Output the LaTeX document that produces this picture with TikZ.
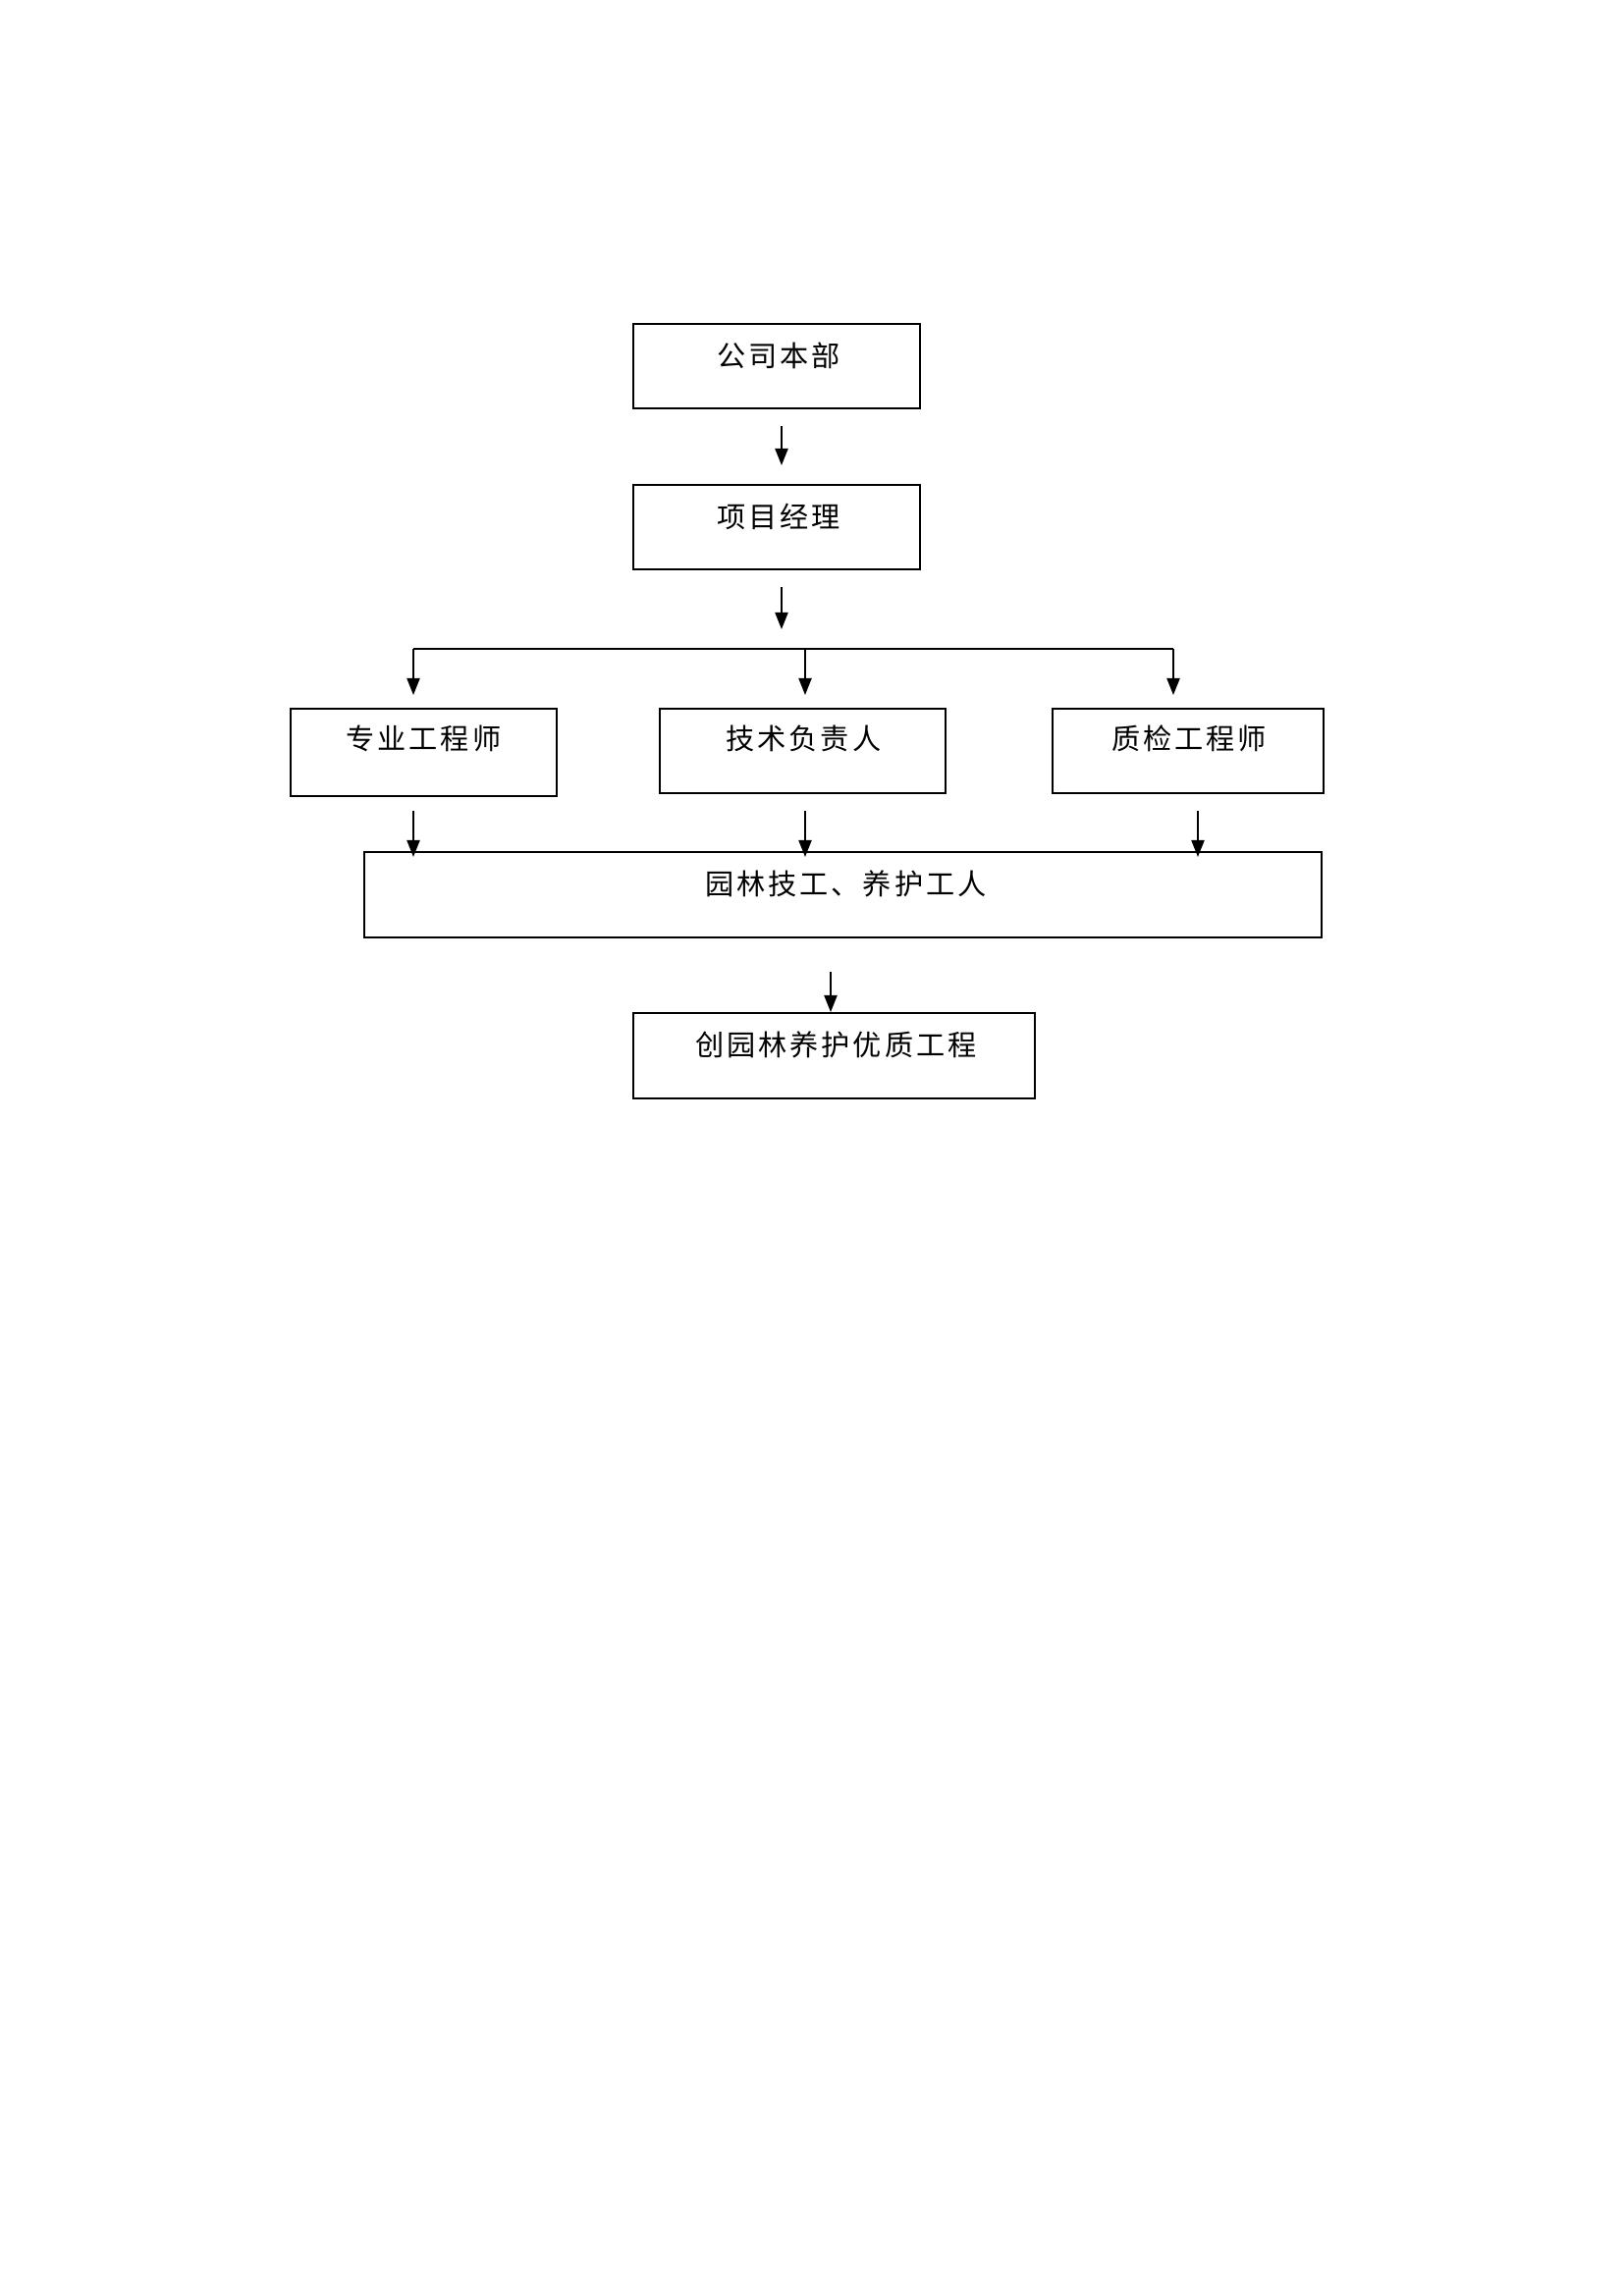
\documentclass[tikz,border=0pt]{standalone}
\usepackage{fontspec}
\newfontfamily\cjk[LetterSpace=10]{Noto Sans CJK SC}
\usetikzlibrary{arrows.meta,fit,calc}
\begin{document}
\begin{tikzpicture}[x=0.35993pt,y=-0.35993pt,
  box/.style={draw,line width=0.7pt,inner sep=0pt},
  arr/.style={line width=0.55pt,-{Triangle[length=6.2pt,width=4.8pt]}},
  txt/.style={font=\cjk\fontsize{10.5}{12}\selectfont,inner sep=0pt,anchor=center}]
\useasboundingbox (0,0) rectangle (1654,2339);
% boxes
\node[box,fit={(645,330) (937,416)}] (b1) {};
\node[box,fit={(645,494) (937,580)}] (b2) {};
\node[box,fit={(296,722) (567,811)}] (b3) {};
\node[box,fit={(672,722) (963,808)}] (b4) {};
\node[box,fit={(1072,722) (1348,808)}] (b5) {};
\node[box,fit={(371,868) (1346,955)}] (b6) {};
\node[box,fit={(645,1032) (1054,1119)}] (b7) {};
% texts
\node[txt] (t1) at ($(b1.north)+(2,33)$) {公司本部};
\node[txt] (t2) at ($(b2.north)+(2,33)$) {项目经理};
\node[txt] (t3) at ($(b3.north)+(0,31)$) {专业工程师};
\node[txt] (t4) at ($(b4.north)+(1,31)$) {技术负责人};
\node[txt] (t5) at ($(b5.north)+(1,31)$) {质检工程师};
\node[txt] (t6) at ($(b6.north)+(3,33)$) {园林技工、养护工人};
\node[txt] (t7) at ($(b7.north)+(2,33)$) {创园林养护优质工程};
% connector points
\coordinate (a1s) at (796,434);
\coordinate (a1e) at (796,474);
\coordinate (a2s) at (796,598);
\coordinate (a2e) at (796,641);
\coordinate (busL) at (421,661);
\coordinate (busM) at (820,661);
\coordinate (busR) at (1195,661);
\coordinate (d3) at (421,708);
\coordinate (d4) at (820,708);
\coordinate (d5) at (1195,708);
\coordinate (u3) at (421,826);
\coordinate (u4) at (820,826);
\coordinate (u5) at (1220,826);
\coordinate (v3) at (421,873);
\coordinate (v4) at (820,873);
\coordinate (v5) at (1220,873);
\coordinate (w1) at (846,990);
% arrows
\draw[arr] (a1s) -- (a1e);
\draw[arr] (a2s) -- (a2e);
\draw[line width=0.55pt] (busL) -- (busR);
\draw[arr] (busL) -- (d3);
\draw[arr] (busM) -- (d4);
\draw[arr] (busR) -- (d5);
\draw[arr] (u3) -- (v3);
\draw[arr] (u4) -- (v4);
\draw[arr] (u5) -- (v5);
\draw[arr] (w1) -- (w1 |- b7.north);
\end{tikzpicture}
\end{document}
